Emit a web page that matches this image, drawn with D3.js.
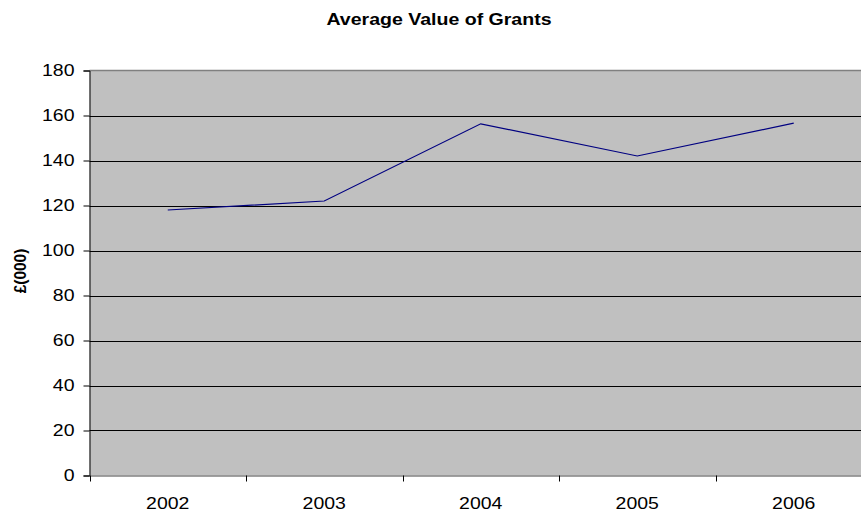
<!DOCTYPE html>
<html>
<head>
<meta charset="utf-8">
<script src="https://cdn.jsdelivr.net/npm/d3@7/dist/d3.min.js"></script>
<style>
  body { margin: 0; background: #fff; overflow: hidden; }
  svg { display: block; font-family: "Liberation Sans", Arial, sans-serif; }
</style>
</head>
<body>
<svg id="chart" width="861" height="514"></svg>
<script>
// Average grant value per year, in £ thousands
const years = ["2002", "2003", "2004", "2005", "2006"];
const values = [118, 122, 156.3, 142, 156.6];
const yTicks = [0, 20, 40, 60, 80, 100, 120, 140, 160, 180];

const svg = d3.select("#chart");
const plot = { left: 89.5, right: 872, top: 70.5, bottom: 475.5 };
const labelStretch = 1.18;   // wide-set axis lettering

const x = d3.scaleBand().domain(years).range([plot.left, plot.right]);
const y = d3.scaleLinear().domain([0, 180]).range([plot.bottom, plot.top]);

// Plot background
svg.append("rect")
  .attr("x", plot.left).attr("y", plot.top)
  .attr("width", plot.right - plot.left).attr("height", plot.bottom - plot.top)
  .attr("fill", "#c0c0c0");

// Horizontal gridlines
svg.append("g").selectAll("line")
  .data(yTicks.filter(d => d > 0 && d < 180))
  .join("line")
  .attr("x1", plot.left).attr("x2", plot.right)
  .attr("y1", d => Math.round(y(d)) + 0.5).attr("y2", d => Math.round(y(d)) + 0.5)
  .attr("stroke", "#000").attr("stroke-width", 1);

// Top border
svg.append("line")
  .attr("x1", plot.left).attr("x2", plot.right)
  .attr("y1", plot.top).attr("y2", plot.top)
  .attr("stroke", "#808080").attr("stroke-width", 1.5);

// Y axis
const yAxis = d3.axisLeft(y).tickValues(yTicks).tickSize(6).tickPadding(9);
const gy = svg.append("g").attr("transform", `translate(${plot.left},0)`).call(yAxis);
gy.select(".domain").attr("stroke", "#000");
gy.selectAll(".tick line").attr("stroke", "#000");
gy.selectAll(".tick text")
  .attr("font-size", 16.5).attr("fill", "#000")
  .attr("font-family", "Liberation Sans, Arial, sans-serif")
  .attr("x", -15 / labelStretch)
  .attr("transform", `scale(${labelStretch},1)`);

// X axis with ticks on category boundaries
const xAxis = d3.axisBottom(x).tickSize(0).tickPadding(22);
const gx = svg.append("g").attr("transform", `translate(0,${plot.bottom})`).call(xAxis);
gx.select(".domain").attr("stroke", "#808080").attr("stroke-width", 1.5);
gx.selectAll(".tick text")
  .attr("font-size", 16.5).attr("fill", "#000")
  .attr("font-family", "Liberation Sans, Arial, sans-serif")
  .attr("transform", `scale(${labelStretch},1)`);
svg.append("g").selectAll("line")
  .data(years.map(d => x(d)).concat([plot.right]))
  .join("line")
  .attr("x1", d => Math.round(d) + 0.5).attr("x2", d => Math.round(d) + 0.5)
  .attr("y1", plot.bottom).attr("y2", plot.bottom + 6)
  .attr("stroke", "#000");

// Data line
const line = d3.line()
  .x((d, i) => x(years[i]) + x.bandwidth() / 2)
  .y(d => y(d));
svg.append("path")
  .datum(values)
  .attr("d", line)
  .attr("fill", "none")
  .attr("stroke", "#000080")
  .attr("stroke-width", 1.2);

// Title
svg.append("text")
  .attr("transform", "translate(439,25) scale(1.15,1)")
  .attr("text-anchor", "middle")
  .attr("font-size", 17).attr("font-weight", "bold")
  .text("Average Value of Grants");

// Y axis title
svg.append("text")
  .attr("transform", "translate(26,271) rotate(-90) scale(1,1.12)")
  .attr("text-anchor", "middle")
  .attr("font-size", 15.5).attr("font-weight", "bold")
  .text("£(000)");
</script>
</body>
</html>
